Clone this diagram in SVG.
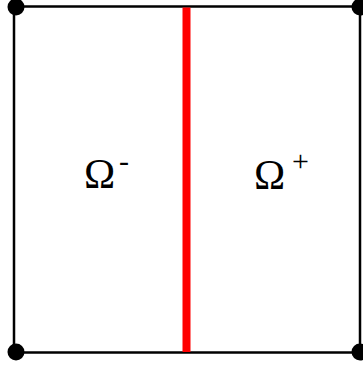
<svg xmlns="http://www.w3.org/2000/svg" width="363" height="365" viewBox="0 0 363 365">
<style>
.edge{stroke:#000;stroke-width:2.5;fill:none}
.dot{fill:#000}
.lbl{font-family:"Liberation Serif","Times New Roman",serif;fill:#000}
.big{font-size:42px}
.sup{font-size:30px}
</style>
<rect width="363" height="365" fill="#fff"/>
<g id="connectors">
<rect class="edge" x="14" y="6.5" width="346" height="346"/>
<line x1="186.5" y1="7.5" x2="186.5" y2="352" stroke="#ff0000" stroke-width="8"/>
</g>
<g id="corner-tl"><circle class="dot" cx="16" cy="7" r="8.5"/></g>
<g id="corner-tr"><circle class="dot" cx="360" cy="7" r="8.5"/></g>
<g id="corner-bl"><circle class="dot" cx="16" cy="352" r="8.5"/></g>
<g id="corner-br"><circle class="dot" cx="360" cy="352" r="8.5"/></g>
<g id="omega-minus">
<text class="lbl big" x="84" y="188">Ω</text>
<text class="lbl sup" x="119" y="171">-</text>
</g>
<g id="omega-plus">
<text class="lbl big" x="254" y="189">Ω</text>
<text class="lbl sup" x="292" y="171">+</text>
</g>
</svg>
